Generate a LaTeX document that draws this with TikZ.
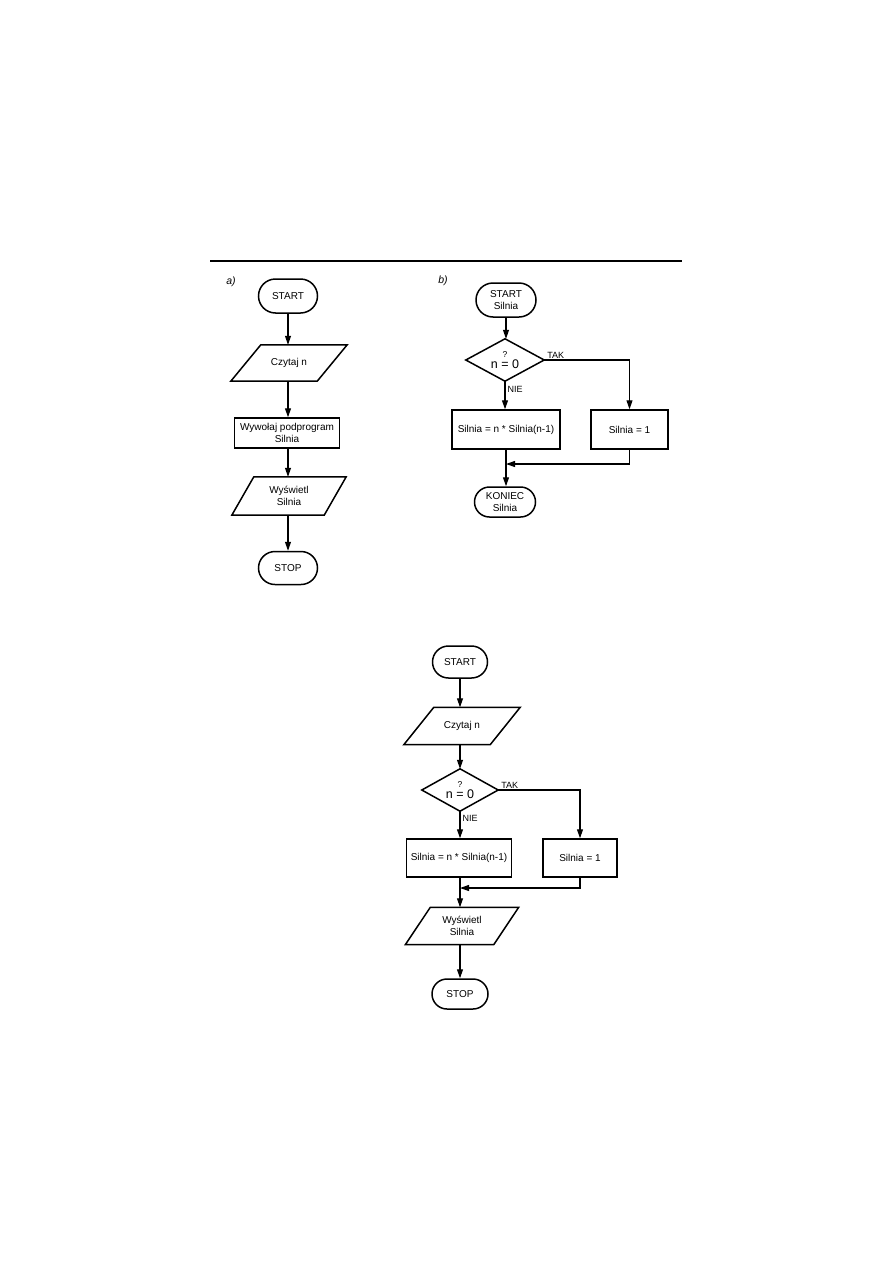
\documentclass[tikz,border=0pt]{standalone}
\usepackage{fontspec}
\setmainfont{Liberation Sans}
\usetikzlibrary{arrows.meta,shapes.misc}

\newcommand\drawparal[2]{%
  \draw[shapeline] ([xshift=#2]#1.north west) -- ([xshift=#2]#1.north east)
    -- ([xshift=-#2]#1.south east) -- ([xshift=-#2]#1.south west) -- cycle;}
\newcommand\drawdiam[1]{%
  \draw[shapeline] (#1.north) -- (#1.east) -- (#1.south) -- (#1.west) -- cycle;}

\tikzset{
  base/.style={font=\fontsize{10}{11.8}\selectfont, align=center, inner sep=1pt},
  shapeline/.style={line width=1.5pt, line join=miter},
  termbox/.style={base, draw, rounded rectangle, shapeline},
  procbox/.style={base, draw, rectangle, shapeline},
  iobox/.style={base, rectangle},
  decbox/.style={base, rectangle, inner sep=0pt},
  arr/.style={line width=1.1pt, -{Triangle[length=9pt,width=6pt]}},
  lab/.style={font=\fontsize{9}{10}\selectfont, inner sep=0pt},
  partlab/.style={font=\fontsize{10.5}{12}\selectfont\itshape, inner sep=0pt},
  rulestyle/.style={line width=1.2pt}
}

\begin{document}
\begin{tikzpicture}[x=1pt,y=-1pt]
\fill[white] (0,0) rectangle (893,1263);
\useasboundingbox (0,0) rectangle (893,1263);

% horizontal rule
\coordinate (ruleL) at (210,261);
\coordinate (ruleR) at (682,261);
\draw[rulestyle] (ruleL) -- (ruleR);

% ---------------- part a ----------------
\node[partlab] (labA) at (231,282) {a)};
\node[termbox, minimum width=61, minimum height=34] (startA) at (288,296) {START};
\node[iobox, minimum width=86, minimum height=36] (readA) at (289,363) {Czytaj n};
\drawparal{readA}{15}
\node[procbox, minimum width=105, minimum height=30] (callA) at (287,433) {Wywołaj podprogram\\Silnia};
\node[iobox, minimum width=92, minimum height=38] (showA) at (289,496) {Wyświetl\\Silnia};
\drawparal{showA}{11}
\node[termbox, minimum width=61, minimum height=33] (stopA) at (288,568) {STOP};

\draw[arr] (startA.south) -- (startA.south |- readA.north);
\draw[arr] (startA.south |- readA.south) -- (startA.south |- callA.north);
\draw[arr] (startA.south |- callA.south) -- (startA.south |- showA.north);
\draw[arr] (startA.south |- showA.south) -- (stopA.north);

% ---------------- part b ----------------
\node[partlab] (labB) at (443,281) {b)};
\node[termbox, minimum width=62, minimum height=34] (startB) at (506,300) {START\\Silnia};
\node[decbox, minimum width=78, minimum height=42] (decB) at (505,360)
  {{\fontsize{8.5}{9}\selectfont ?}\\[-1pt]{\fontsize{12.5}{13}\selectfont n = 0}};
\drawdiam{decB}
\node[procbox, minimum width=108, minimum height=39] (leftB) at (506,429.5) {Silnia = n * Silnia(n-1)};
\node[procbox, minimum width=77, minimum height=39] (rightB) at (629.5,429.5) {Silnia = 1};
\node[termbox, minimum width=63, minimum height=30] (endB) at (505,502) {KONIEC\\Silnia};
\coordinate (mergeB) at (506,464);

\draw[arr] (startB.south) -- (startB.south |- decB.north);
\draw[arr] (decB.east) -| (rightB.north);
\draw[arr] (decB.south) -- (decB.south |- leftB.north);
\draw[arr] (rightB.south) |- (mergeB);
\draw[arr] (leftB.south) -- (leftB.south |- endB.north);
\node[lab, anchor=south west] (takB) at ([xshift=3pt,yshift=1.5pt]decB.east) {TAK};
\node[lab, anchor=north west] (nieB) at ([xshift=2.5pt,yshift=-4.5pt]decB.south) {NIE};

% ---------------- part c ----------------
\node[termbox, minimum width=57, minimum height=32] (startC) at (460,662) {START};
\node[iobox, minimum width=86, minimum height=37] (readC) at (462,726) {Czytaj n};
\drawparal{readC}{15}
\node[decbox, minimum width=76, minimum height=42] (decC) at (460,790)
  {{\fontsize{8.5}{9}\selectfont ?}\\[-1pt]{\fontsize{12.5}{13}\selectfont n = 0}};
\drawdiam{decC}
\node[procbox, minimum width=105, minimum height=38] (leftC) at (459,858) {Silnia = n * Silnia(n-1)};
\node[procbox, minimum width=74, minimum height=38] (rightC) at (580,858) {Silnia = 1};
\coordinate (mergeC) at (460,888);
\node[iobox, minimum width=88, minimum height=37] (showC) at (462,926) {Wyświetl\\Silnia};
\drawparal{showC}{12.5}
\node[termbox, minimum width=58, minimum height=30] (stopC) at (460,994) {STOP};

\draw[arr] (startC.south) -- (startC.south |- readC.north);
\draw[arr] (startC.south |- readC.south) -- (decC.north);
\draw[arr] (decC.east) -| (rightC.north);
\draw[arr] (decC.south) -- (decC.south |- leftC.north);
\draw[arr] (rightC.south) |- (mergeC);
\draw[arr] (decC.south |- leftC.south) -- (decC.south |- showC.north);
\draw[arr] (decC.south |- showC.south) -- (stopC.north);
\node[lab, anchor=south west] (takC) at ([xshift=3pt,yshift=1.5pt]decC.east) {TAK};
\node[lab, anchor=north west] (nieC) at ([xshift=2.5pt,yshift=-3.5pt]decC.south) {NIE};
\end{tikzpicture}
\end{document}
